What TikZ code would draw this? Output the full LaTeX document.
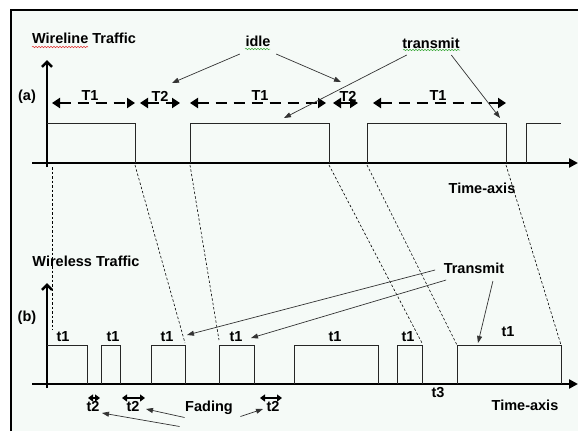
\documentclass[tikz,border=0pt]{standalone}
\usepackage{fontspec}
\setmainfont{Liberation Sans}
\usetikzlibrary{arrows.meta,decorations.pathmorphing}
\definecolor{paper}{RGB}{245,250,247}
\definecolor{spellred}{RGB}{225,50,50}
\definecolor{spellgreen}{RGB}{60,170,60}

\begin{document}
\begin{tikzpicture}[x=1pt,y=-1pt]
    \tikzstyle{every node}=[font=\bfseries\fontsize{14.5}{17}\selectfont,inner sep=0.5pt];
    \tikzstyle{axis}=[line width=2.6pt];
    \tikzstyle{pulse}=[line width=0.8pt,black!85];
    \tikzstyle{period}=[line width=2.8pt,dash pattern=on 11pt off 7pt,{Triangle[length=8pt,width=10pt]}-{Triangle[length=8pt,width=10pt]}];
    \tikzstyle{link}=[line width=0.6pt,dash pattern=on 2.5pt off 2pt];
    \tikzstyle{pointer}=[line width=0.7pt,black!80,-{Triangle[length=7pt,width=5pt]}];
    \tikzstyle{gapmark}=[line width=1.6pt,{Triangle[length=5pt,width=7pt]}-{Triangle[length=5pt,width=7pt]}];
    \tikzstyle{spell}=[line width=0.5pt,decorate,decoration={snake,amplitude=0.7pt,segment length=3pt}];
    \useasboundingbox (0,0) rectangle (578,431);
    \fill[paper] (11,10) rectangle (578,431);
    \draw[line width=2pt] (11,431) -- (11,10) -- (578,10);

    % (a) wireline
    \node (wired) at (84,38) {Wireline Traffic};
    \node (tagA) at (27,97) {(a)};
    \draw[axis,-{Straight Barb[length=5pt,width=10pt]}] (47,167) -- (47,60);
    \draw[axis,-{Triangle[length=9pt,width=9pt]}] (32,163) -- (578,163);
    \draw[pulse] (47,123) -- (135,123) -- (135,163);
    \draw[pulse] (190,163) -- (190,123) -- (329,123) -- (329,163);
    \draw[pulse] (367,163) -- (367,123) -- (506,123) -- (506,163);
    \draw[pulse] (526,163) -- (526,123) -- (561,123);
    \coordinate (pa1) at (52,103);  \coordinate (pb1) at (135,103);
    \coordinate (pa2) at (140,103); \coordinate (pb2) at (180,103);
    \coordinate (pa3) at (190,103); \coordinate (pb3) at (326,103);
    \coordinate (pa4) at (333,103); \coordinate (pb4) at (358,103);
    \coordinate (pa5) at (373,103); \coordinate (pb5) at (506,103);
    \foreach \i in {1,...,5}
        \draw[period] (pa\i) -- (pb\i);
    \node (T1a) at (90,96) {T1};
    \node (T2a) at (160,96) {T2};
    \node (T1b) at (260,96) {T1};
    \node (T2b) at (348,96) {T2};
    \node (T1c) at (438,96) {T1};
    \node (idle) at (258,41) {idle};
    \node (tx) at (431,43) {transmit};
    \node (timeA) at (482,188) {Time-axis};
    \draw[pointer] ([shift={(-5,7)}]idle.south west) -- (172,83);
    \draw[pointer] ([shift={(5,7)}]idle.south east) -- (341,82);
    \draw[pointer] ([shift={(5,6)}]tx.south west) -- (284,118);
    \draw[pointer] ([shift={(-9,6)}]tx.south east) -- (500,118);
    \draw[spell,spellred] (32,47) -- (88,47);
    \draw[spell,spellgreen] (245,49) -- (270,49);
    \draw[spell,spellgreen] (403,50) -- (460,50);

    % links between (a) and (b)
    \draw[link] (52,167) -- (52,330);
    \draw[link] (135,165) -- (185,343);
    \draw[link] (190,165) -- (219,340);
    \draw[link] (329,165) -- (422,343);
    \draw[link] (367,165) -- (457,345);
    \draw[link] (506,165) -- (561,345);

    % (b) wireless
    \node (wless) at (86,261) {Wireless Traffic};
    \node (tagB) at (27,318) {(b)};
    \draw[axis,-{Straight Barb[length=5pt,width=10pt]}] (47,388) -- (47,283);
    \draw[axis,-{Triangle[length=9pt,width=9pt]}] (32,384) -- (578,384);
    \draw[pulse] (47,345) -- (87,345) -- (87,384);
    \draw[pulse] (101,384) -- (101,345) -- (120,345) -- (120,384);
    \draw[pulse] (151,384) -- (151,345) -- (185,345) -- (185,384);
    \draw[pulse] (219,384) -- (219,345) -- (254,345) -- (254,384);
    \draw[pulse] (294,384) -- (294,345) -- (378,345) -- (378,384);
    \draw[pulse] (397,384) -- (397,345) -- (422,345) -- (422,384);
    \draw[pulse] (457,384) -- (457,345) -- (561,345) -- (561,384);
    \foreach \x/\y in {63/337,113/337,167/337,236/337,335/337,408/337,508/332}
        \node at (\x,\y) {t1};
    \node (Tx) at (474,268) {Transmit};
    \draw[pointer] ([shift={(-8,2)}]Tx.west) -- (187,335);
    \draw[pointer] ([shift={(3,6)}]Tx.south west) -- (251,338);
    \draw[pointer] ([shift={(-12,7)}]Tx.south east) -- (478,343);
    \node (t3) at (438,393) {t3};
    \node (timeB) at (525,405) {Time-axis};
    \coordinate (ga1) at (88,398);  \coordinate (gb1) at (100,398);
    \coordinate (ga2) at (122,398); \coordinate (gb2) at (145,398);
    \coordinate (ga3) at (260,398); \coordinate (gb3) at (282,398);
    \foreach \i in {1,2,3}
        \draw[gapmark] (ga\i) -- (gb\i);
    \node (t2a) at (93,406) {t2};
    \node (t2b) at (133,406) {t2};
    \node (t2c) at (273,406) {t2};
    \node (fade) at (209,408) {Fading};
    \draw[pointer] ([shift={(-5,11)}]fade.south west) -- (102,413);
    \draw[pointer] ([shift={(0,2)}]fade.south west) -- (146,409);
    \draw[pointer] ([shift={(7,1)}]fade.south east) -- (263,409);
\end{tikzpicture}
\end{document}
